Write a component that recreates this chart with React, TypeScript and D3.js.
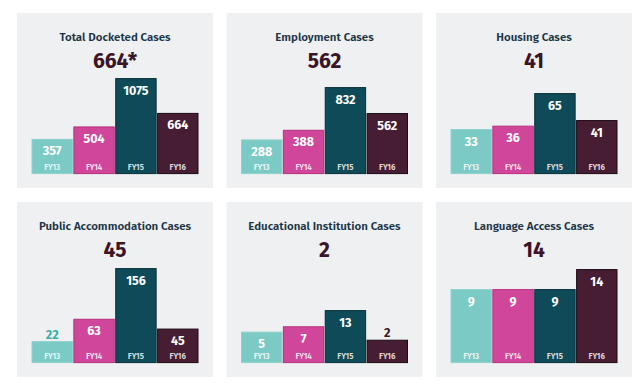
import React from 'react';
import * as d3 from 'd3';

const years = ['FY13', 'FY14', 'FY15', 'FY16'];

const titles = [
  'Total Docketed Cases',
  'Employment Cases',
  'Housing Cases',
  'Public Accommodation Cases',
  'Educational Institution Cases',
  'Language Access Cases'
];

const headlines = ['664*', '562', '41', '45', '2', '14'];

const totalDocketed = [357, 504, 1075, 664];
const employment = [288, 388, 832, 562];
const housing = [33, 36, 65, 41];
const publicAccommodation = [22, 63, 156, 45];
const educational = [5, 7, 13, 2];
const languageAccess = [9, 9, 9, 14];

const series = [totalDocketed, employment, housing, publicAccommodation, educational, languageAccess];

// bar height range per panel (px), the panels are not on a shared scale
const heightRanges: [number, number][] = [
  [4, 95],
  [6, 86],
  [7, 80],
  [9, 94],
  [17, 52],
  [37, 93]
];

const fills = ['#7ccac5', '#d0469a', '#0e4a57', '#471d33'];
const strokes = ['#8fd2cd', '#b8307f', '#062f38', '#1c0a13'];
const outsideLabel = ['#39b1aa', '#b8307f', '#0e4a57', '#3a1426'];

const W = 640;
const H = 388;
const panelW = 196;
const panelH = 175;
const font = "'Fira Sans', Lato, 'Open Sans', sans-serif";

const Panel: React.FC<{ i: number }> = ({ i }) => {
  const col = i % 3;
  const row = Math.floor(i / 3);
  const px = 17 + col * 209.5;
  const py = 13 + row * 189;
  const values = series[i];
  const base = py + 160.6;

  const x = d3
    .scaleBand()
    .domain(years)
    .range([px + 15, px + 181])
    .paddingInner(0.035);

  const h = d3
    .scaleLinear()
    .domain([0, d3.max(values) as number])
    .range(heightRanges[i]);

  return (
    <g>
      <rect x={px} y={py} width={panelW} height={panelH} fill="#eff0f1" />
      <text
        x={px + panelW / 2}
        y={py + 27.5}
        textAnchor="middle"
        fontFamily={font}
        fontSize={11.5}
        fontWeight={600}
        fill="#1b3548"
      >
        {titles[i]}
      </text>
      <text
        x={px + panelW / 2}
        y={py + 54.5}
        textAnchor="middle"
        fontFamily={font}
        fontSize={21}
        fontWeight={700}
        fill="#3b1527"
      >
        {headlines[i]}
      </text>
      {values.map((v, j) => {
        const bh = h(v);
        const bx = x(years[j]) as number;
        const bw = x.bandwidth();
        const top = base - bh;
        const inside = bh >= 25;
        const ly = inside ? Math.min(top + 16, base - 15) : top - 3;
        return (
          <g key={j}>
            <rect
              x={bx}
              y={top}
              width={bw}
              height={bh}
              fill={fills[j]}
              stroke={strokes[j]}
              strokeWidth={1}
            />
            <text
              x={bx + bw / 2}
              y={ly}
              textAnchor="middle"
              fontFamily={font}
              fontSize={12.5}
              fontWeight={700}
              fill={inside ? '#ffffff' : outsideLabel[j]}
            >
              {v}
            </text>
            <text
              x={bx + bw / 2}
              y={base - 4}
              textAnchor="middle"
              fontFamily={font}
              fontSize={8}
              fontWeight={600}
              fill="#ffffff"
              fillOpacity={0.85}
            >
              {years[j]}
            </text>
          </g>
        );
      })}
    </g>
  );
};

export default function App() {
  return (
    <svg
      width={W}
      height={H}
      style={{ position: 'absolute', left: 0, top: 0, background: '#ffffff' }}
    >
      {titles.map((_, i) => (
        <Panel key={i} i={i} />
      ))}
    </svg>
  );
}
